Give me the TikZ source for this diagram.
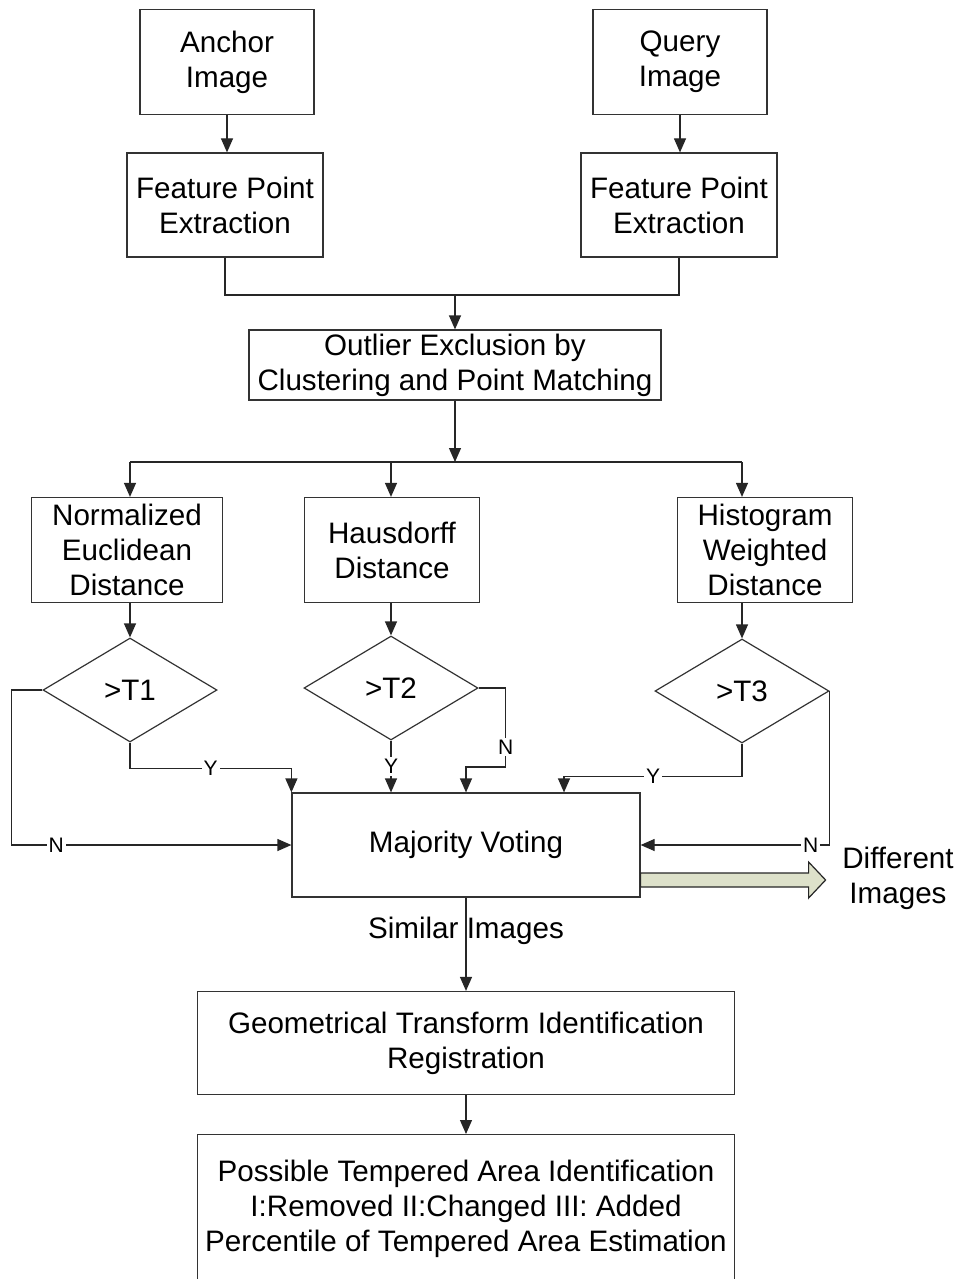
\documentclass[tikz,border=0pt]{standalone}
\usepackage{fontspec}
\setmainfont{Liberation Sans}
\usetikzlibrary{arrows.meta,shapes.geometric}
\definecolor{shaftfill}{HTML}{DDE1CA}

\begin{document}
\begin{tikzpicture}[x=0.5pt,y=-0.5pt,>={Triangle[length=7pt,width=6pt]},
  every node/.style={font=\fontsize{14.8}{17.5}\selectfont},
  block/.style={draw=black!80,line width=0.6pt,align=center,inner sep=0pt},
  test/.style={draw=black!80,line width=0.6pt,diamond,inner sep=0pt,minimum width=87pt,minimum height=52pt},
  yn/.style={fill=white,inner sep=1pt,font=\fontsize{10.5}{12}\selectfont},
  line/.style={draw=black!85,line width=0.6pt}]

\clip[use as bounding box] (0,0) rectangle (958,1279);

\node[block,minimum width=87pt,minimum height=52.5pt]   (anchor)  at (227,62)   {Anchor\\Image};
\node[block,minimum width=87pt,minimum height=52.5pt]   (query)   at (680,62)   {Query\\Image};
\node[block,minimum width=98pt,minimum height=52pt]     (fpe1)    at (225,205)  {Feature Point\\Extraction};
\node[block,minimum width=98pt,minimum height=52pt]     (fpe2)    at (679,205)  {Feature Point\\Extraction};
\node[block,minimum width=206pt,minimum height=35pt]    (outlier) at (455,365)  {Outlier Exclusion by\\Clustering and Point Matching};
\node[block,minimum width=95.5pt,minimum height=52.5pt] (ned)     at (127,550)  {Normalized\\Euclidean\\Distance};
\node[block,minimum width=87.5pt,minimum height=52.5pt] (haus)    at (392,550)  {Hausdorff\\Distance};
\node[block,minimum width=87.5pt,minimum height=52.5pt] (hist)    at (765,550)  {Histogram\\Weighted\\Distance};
\node[test]   (t1)  at (130,690)  {>T1};
\node[test]   (t2)  at (391,688)  {>T2};
\node[test]   (t3)  at (742,691)  {>T3};
\node[block,minimum width=174pt,minimum height=52pt]    (vote)    at (466,845)  {Majority Voting};
\node[block,minimum width=268.5pt,minimum height=51.5pt] (geo)    at (466,1043) {Geometrical Transform Identification\\Registration};
\node[block,minimum width=268.5pt,minimum height=89pt,anchor=north] (area) at (466,1134)
  {Possible Tempered Area Identification\\I:Removed II:Changed III: Added\\Percentile of Tempered Area Estimation\\\mbox{}};
\node[align=center] (diff) at (898,878) {Different\\Images};

% inputs
\draw[line,->] (anchor.south) -- (anchor.south |- fpe1.north);
\draw[line,->] (query.south) -- (query.south |- fpe2.north);
\coordinate (merge) at (455,295);
\draw[line] (fpe1.south) |- (merge) -| (fpe2.south);
\draw[line,->] (merge) -- (outlier.north);

% three distances
\coordinate (split) at (455,462);
\draw[line,->] (outlier.south) -- (split);
\draw[line] (split -| t1) -- (split -| t3);
\foreach \d/\b in {t1/ned,t2/haus,t3/hist} {
  \draw[line,->] (split -| \d) -- (\b.north -| \d);
  \draw[line,->] (\b.south -| \d) -- (\d.north);
}

% votes
\draw[line,->] (t1.south) -- ++(0,26) -| node[yn,pos=0.25]{Y} (vote.north west);
\draw[line,->] (t1.west) -- ++(-31,0) |- node[yn,pos=0.58]{N} (vote.west);
\draw[line,->] (t2.south) -- node[yn]{Y} (t2.south |- vote.north);
\draw[line,->] (t2.east) -- ++(27,0) -- node[yn,pos=0.75]{N} ++(0,79) -| (vote.north);
\draw[line,->] (t3.south) -- ++(0,33) -| node[yn,pos=0.25]{Y} ([xshift=49pt]vote.north);
\draw[line,->] (t3.east) |- node[yn,pos=0.55]{N} (vote.east);

% outcome
\coordinate (out) at ([yshift=-17.5pt]vote.east);
\draw[line,fill=shaftfill] (out) ++(0,-7) -- ++(168,0) -- ++(0,-11) -- ++(17,18)
  -- ++(-17,18) -- ++(0,-11) -- ++(-168,0) -- cycle;
\draw[line,->] (vote.south) -- (geo.north);
\node (similar) at (466,931) {Similar Images};
\draw[line,->] (geo.south) -- (area.north);
\end{tikzpicture}
\end{document}
